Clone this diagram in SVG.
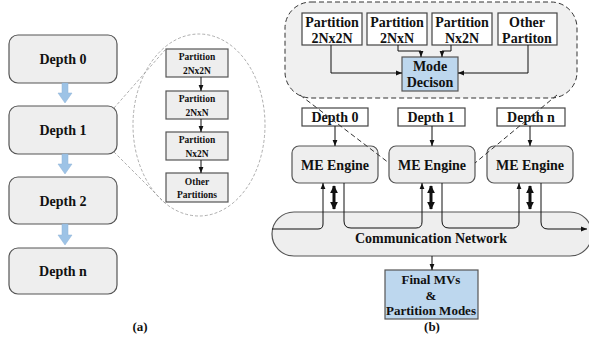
<svg xmlns="http://www.w3.org/2000/svg" width="589" height="347" viewBox="0 0 589 347" font-family="Liberation Serif, DejaVu Serif, serif">
<style>
text{font-family:'Liberation Serif','Tinos','DejaVu Serif',serif;font-weight:bold;fill:#111;text-anchor:middle}
.gbox{fill:#eeeeee;stroke:#555;stroke-width:1.2}
.wbox{fill:#fff;stroke:#444;stroke-width:1.2}
.bbox{fill:#bdd7ee;stroke:#555;stroke-width:1.2}
.ln{fill:none;stroke:#111;stroke-width:1}
.dash{fill:none;stroke:#333;stroke-width:1;stroke-dasharray:5 3}
.gdash{fill:none;stroke:#999;stroke-width:0.8;stroke-dasharray:3 2}
.blue{fill:#9dc3e6;stroke:#8fb3d6;stroke-width:0.5}
.d{font-size:14px}
.s{font-size:9.5px}
</style>
<defs>
<marker id="ah" viewBox="0 0 10 10" refX="10" refY="5" markerWidth="6" markerHeight="6" orient="auto" markerUnits="userSpaceOnUse"><path d="M0,1 L10,5 L0,9 z" fill="#111"/></marker>
<marker id="tah" viewBox="0 0 10 10" refX="9" refY="5" markerWidth="3" markerHeight="2.6" orient="auto-start-reverse"><path d="M0,0 L10,5 L0,10 z" fill="#111"/></marker>
</defs>

<!-- (a) -->
<g id="a-depth0"><rect class="gbox" x="9" y="35" width="108" height="48" rx="9"/><text class="d" x="63" y="64">Depth 0</text></g>
<g id="a-depth1"><rect class="gbox" x="9" y="106" width="108" height="48" rx="9"/><text class="d" x="63" y="135">Depth 1</text></g>
<g id="a-depth2"><rect class="gbox" x="9" y="177" width="108" height="47" rx="9"/><text class="d" x="63" y="206">Depth 2</text></g>
<g id="a-depthn"><rect class="gbox" x="9" y="248" width="108" height="46" rx="9"/><text class="d" x="63" y="276">Depth n</text></g>
<g id="a-zoom">
<ellipse class="gdash" cx="199" cy="125" rx="66" ry="91"/>
<line class="gdash" x1="114" y1="108" x2="165" y2="50"/>
<line class="gdash" x1="114" y1="152" x2="165" y2="203"/>
</g>
<g id="a-p1"><rect class="gbox" x="166" y="49" width="62" height="28"/><text class="s" x="197" y="60">Partition</text><text class="s" x="197" y="74">2Nx2N</text></g>
<g id="a-p2"><rect class="gbox" x="166" y="91" width="62" height="28"/><text class="s" x="197" y="102">Partition</text><text class="s" x="197" y="116">2NxN</text></g>
<g id="a-p3"><rect class="gbox" x="166" y="132" width="62" height="28"/><text class="s" x="197" y="143">Partition</text><text class="s" x="197" y="157">Nx2N</text></g>
<g id="a-p4"><rect class="gbox" x="166" y="173" width="62" height="29"/><text class="s" x="197" y="185">Other</text><text class="s" x="197" y="198">Partitions</text></g>

<!-- (b) -->
<g id="b-container"><rect x="285" y="2" width="292" height="96" rx="26" fill="#f0f0f0" stroke="#333" stroke-width="1" stroke-dasharray="5 3"/></g>
<g id="b-p1"><rect class="wbox" x="302" y="13" width="60" height="32"/><text class="d" x="332" y="27">Partition</text><text class="d" x="332" y="43">2Nx2N</text></g>
<g id="b-p2"><rect class="wbox" x="367" y="13" width="60" height="32"/><text class="d" x="397" y="27">Partition</text><text class="d" x="397" y="43">2NxN</text></g>
<g id="b-p3"><rect class="wbox" x="432" y="13" width="60" height="32"/><text class="d" x="462" y="27">Partition</text><text class="d" x="462" y="43">Nx2N</text></g>
<g id="b-p4"><rect class="wbox" x="498" y="13" width="59" height="32"/><text class="d" x="527" y="27">Other</text><text class="d" x="527" y="43">Partiton</text></g>
<g id="b-mode"><rect class="bbox" x="402" y="57" width="56" height="34"/><text class="d" x="430" y="71">Mode</text><text class="d" x="430" y="87">Decison</text></g>

<g id="b-dep0"><rect class="wbox" x="302" y="108" width="66" height="18"/><text class="d" x="335" y="122">Depth 0</text></g>
<g id="b-dep1"><rect class="wbox" x="398" y="108" width="67" height="18"/><text class="d" x="431" y="122">Depth 1</text></g>
<g id="b-depn"><rect class="wbox" x="497" y="108" width="68" height="18"/><text class="d" x="531" y="122">Depth n</text></g>

<g id="b-me0"><rect class="gbox" x="292" y="146" width="86" height="37" rx="7"/><text class="d" x="335" y="170">ME Engine</text></g>
<g id="b-me1"><rect class="gbox" x="389" y="146" width="86" height="37" rx="7"/><text class="d" x="432" y="170">ME Engine</text></g>
<g id="b-me2"><rect class="gbox" x="487" y="146" width="86" height="37" rx="7"/><text class="d" x="530" y="170">ME Engine</text></g>

<g id="b-network"><rect class="gbox" x="272" y="212" width="320" height="44" rx="22"/><text class="d" x="431" y="243">Communication Network</text></g>

<g id="b-final"><rect class="bbox" x="385" y="270" width="93" height="49"/><text style="font-size:13px" x="431" y="284">Final MVs</text><text style="font-size:13px" x="431" y="300">&amp;</text><text style="font-size:13px" x="431" y="315">Partition Modes</text></g>

<g id="labels"><text style="font-size:13px" x="140" y="331">(a)</text><text style="font-size:13px" x="432" y="331">(b)</text></g>

<g id="connectors">
<path class="blue" d="M62,83 h6 v10 h4 l-7,10 l-7,-10 h4 z"/>
<path class="blue" d="M62,154 h6 v10 h4 l-7,10 l-7,-10 h4 z"/>
<path class="blue" d="M62,224 h6 v11 h4 l-7,10 l-7,-10 h4 z"/>
<line class="ln" x1="201" y1="77" x2="201" y2="91" marker-end="url(#ah)"/>
<line class="ln" x1="201" y1="119" x2="201" y2="132" marker-end="url(#ah)"/>
<line class="ln" x1="201" y1="160" x2="201" y2="173" marker-end="url(#ah)"/>
<path class="ln" d="M331,45 V73 H402" marker-end="url(#ah)"/>
<path class="ln" d="M528,45 V73 H458" marker-end="url(#ah)"/>
<path class="ln" d="M398,45 V51 H421 V57" marker-end="url(#ah)"/>
<path class="ln" d="M451,45 V51 H442 V57" marker-end="url(#ah)"/>
<line class="dash" x1="300" y1="95" x2="389" y2="163"/>
<line class="dash" x1="557" y1="95" x2="475" y2="163"/>
<line class="ln" x1="335" y1="126" x2="335" y2="146" marker-end="url(#ah)"/>
<line class="ln" x1="432" y1="126" x2="432" y2="146" marker-end="url(#ah)"/>
<line class="ln" x1="530" y1="126" x2="530" y2="146" marker-end="url(#ah)"/>
<line x1="334" y1="186" x2="334" y2="209" stroke="#111" stroke-width="3" marker-start="url(#tah)" marker-end="url(#tah)"/>
<line x1="431" y1="186" x2="431" y2="209" stroke="#111" stroke-width="3" marker-start="url(#tah)" marker-end="url(#tah)"/>
<line x1="530" y1="186" x2="530" y2="209" stroke="#111" stroke-width="3" marker-start="url(#tah)" marker-end="url(#tah)"/>
<path class="ln" d="M272,229 H318 Q323,229 323,224 V183" marker-end="url(#ah)"/>
<path class="ln" d="M344,183 V221 Q344,228 351,228 H416 Q422,228 422,222 V183" marker-end="url(#ah)"/>
<path class="ln" d="M442,183 V221 Q442,228 449,228 H513 Q519,228 519,222 V183" marker-end="url(#ah)"/>
<path class="ln" d="M541,183 V222 Q541,229 548,229 H587" marker-end="url(#ah)"/>
<line class="ln" x1="432" y1="256" x2="432" y2="270" marker-end="url(#ah)"/>
</g>
</svg>
